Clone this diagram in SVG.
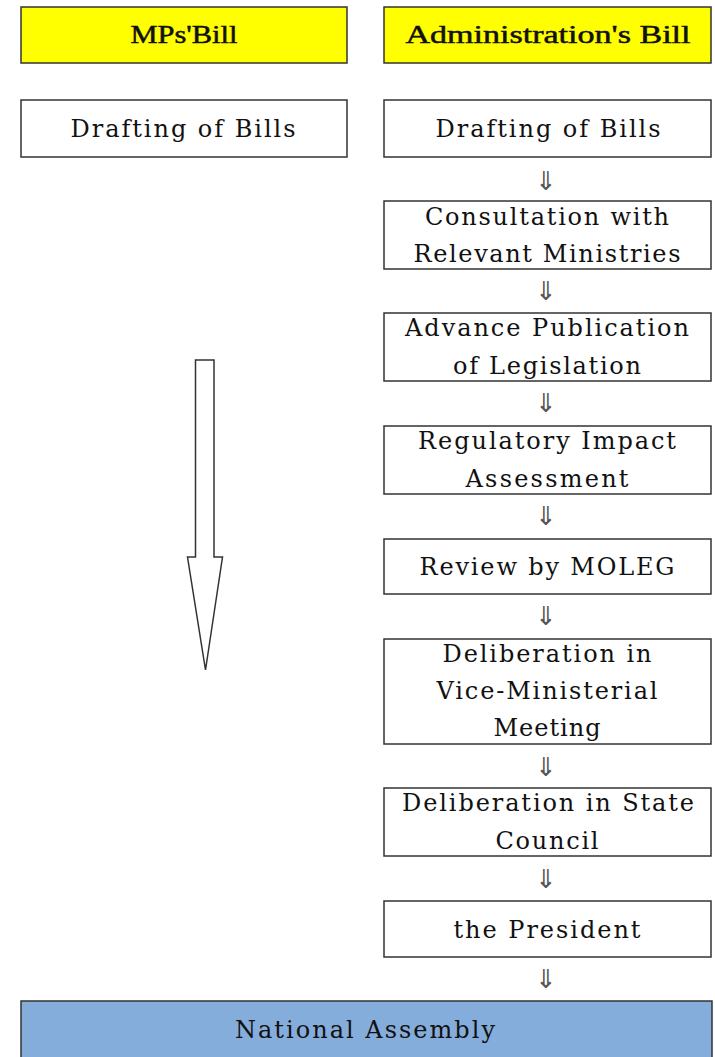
<svg xmlns="http://www.w3.org/2000/svg" width="715" height="1057" viewBox="0 0 715 1057">
<style>
.box{fill:#ffffff;stroke:#333333;stroke-width:1.5}
.yel{fill:#ffff00;stroke:#333333;stroke-width:1.5}
.blue{fill:#85addb;stroke:#333333;stroke-width:1.5}
.t{font-family:"DejaVu Serif","Liberation Serif",serif;font-size:24px;fill:#111111;text-anchor:middle}
.h{font-family:"Liberation Serif","DejaVu Serif",serif;font-size:25px;fill:#111111;stroke:#111111;stroke-width:0.5;text-anchor:middle}
.ar{font-family:"DejaVu Sans",sans-serif;font-size:26px;fill:#555555;text-anchor:middle}
</style>
<rect width="715" height="1057" fill="#ffffff"/>
<g id="mps-bill"><rect class="yel" x="21" y="7" width="326" height="56"/><text class="h" x="184" y="43" textLength="107" lengthAdjust="spacingAndGlyphs">MPs'Bill</text></g>
<g id="admin-bill"><rect class="yel" x="384" y="7" width="327" height="56"/><text class="h" x="548" y="43" textLength="285" lengthAdjust="spacingAndGlyphs">Administration's Bill</text></g>
<g id="mps-drafting"><rect class="box" x="21" y="100" width="326" height="57"/><text class="t" x="183" y="137" textLength="225" lengthAdjust="spacing">Drafting of Bills</text></g>
<g id="admin-drafting"><rect class="box" x="384" y="100" width="327" height="57"/><text class="t" x="548" y="137" textLength="225" lengthAdjust="spacing">Drafting of Bills</text></g>
<g id="consultation"><rect class="box" x="384" y="201" width="327" height="68"/><text class="t" x="547" y="225" textLength="244" lengthAdjust="spacing">Consultation with</text><text class="t" x="547" y="262" textLength="267" lengthAdjust="spacing">Relevant Ministries</text></g>
<g id="advance"><rect class="box" x="384" y="313" width="327" height="68"/><text class="t" x="547" y="336" textLength="284" lengthAdjust="spacing">Advance Publication</text><text class="t" x="547" y="374" textLength="188" lengthAdjust="spacing">of Legislation</text></g>
<g id="regulatory"><rect class="box" x="384" y="426" width="327" height="68"/><text class="t" x="547" y="449" textLength="258" lengthAdjust="spacing">Regulatory Impact</text><text class="t" x="547" y="487" textLength="163" lengthAdjust="spacing">Assessment</text></g>
<g id="review"><rect class="box" x="384" y="539" width="327" height="55"/><text class="t" x="547" y="575" textLength="255" lengthAdjust="spacing">Review by MOLEG</text></g>
<g id="vice"><rect class="box" x="384" y="639" width="327" height="105"/><text class="t" x="547" y="662" textLength="209" lengthAdjust="spacing">Deliberation in</text><text class="t" x="547" y="699" textLength="221" lengthAdjust="spacing">Vice-Ministerial</text><text class="t" x="547" y="736" textLength="107" lengthAdjust="spacing">Meeting</text></g>
<g id="state"><rect class="box" x="384" y="788" width="327" height="68"/><text class="t" x="548" y="811" textLength="292" lengthAdjust="spacing">Deliberation in State</text><text class="t" x="547" y="849" textLength="103" lengthAdjust="spacing">Council</text></g>
<g id="president"><rect class="box" x="384" y="901" width="327" height="56"/><text class="t" x="547" y="938" textLength="187" lengthAdjust="spacing">the President</text></g>
<g id="assembly"><rect class="blue" x="21" y="1001" width="691" height="62"/><text class="t" x="365" y="1038" textLength="260" lengthAdjust="spacing">National Assembly</text></g>
<g id="connectors">
<text class="ar" x="546" y="190">⇓</text>
<text class="ar" x="546" y="300">⇓</text>
<text class="ar" x="546" y="412">⇓</text>
<text class="ar" x="546" y="525">⇓</text>
<text class="ar" x="546" y="625">⇓</text>
<text class="ar" x="546" y="776">⇓</text>
<text class="ar" x="546" y="888">⇓</text>
<text class="ar" x="546" y="988">⇓</text>
<path d="M195.5,360 H214 V557 H222.5 L205.5,670 L187.5,557 H195.5 Z" fill="#ffffff" stroke="#333333" stroke-width="1.5" stroke-linejoin="miter"/>
</g>
</svg>
